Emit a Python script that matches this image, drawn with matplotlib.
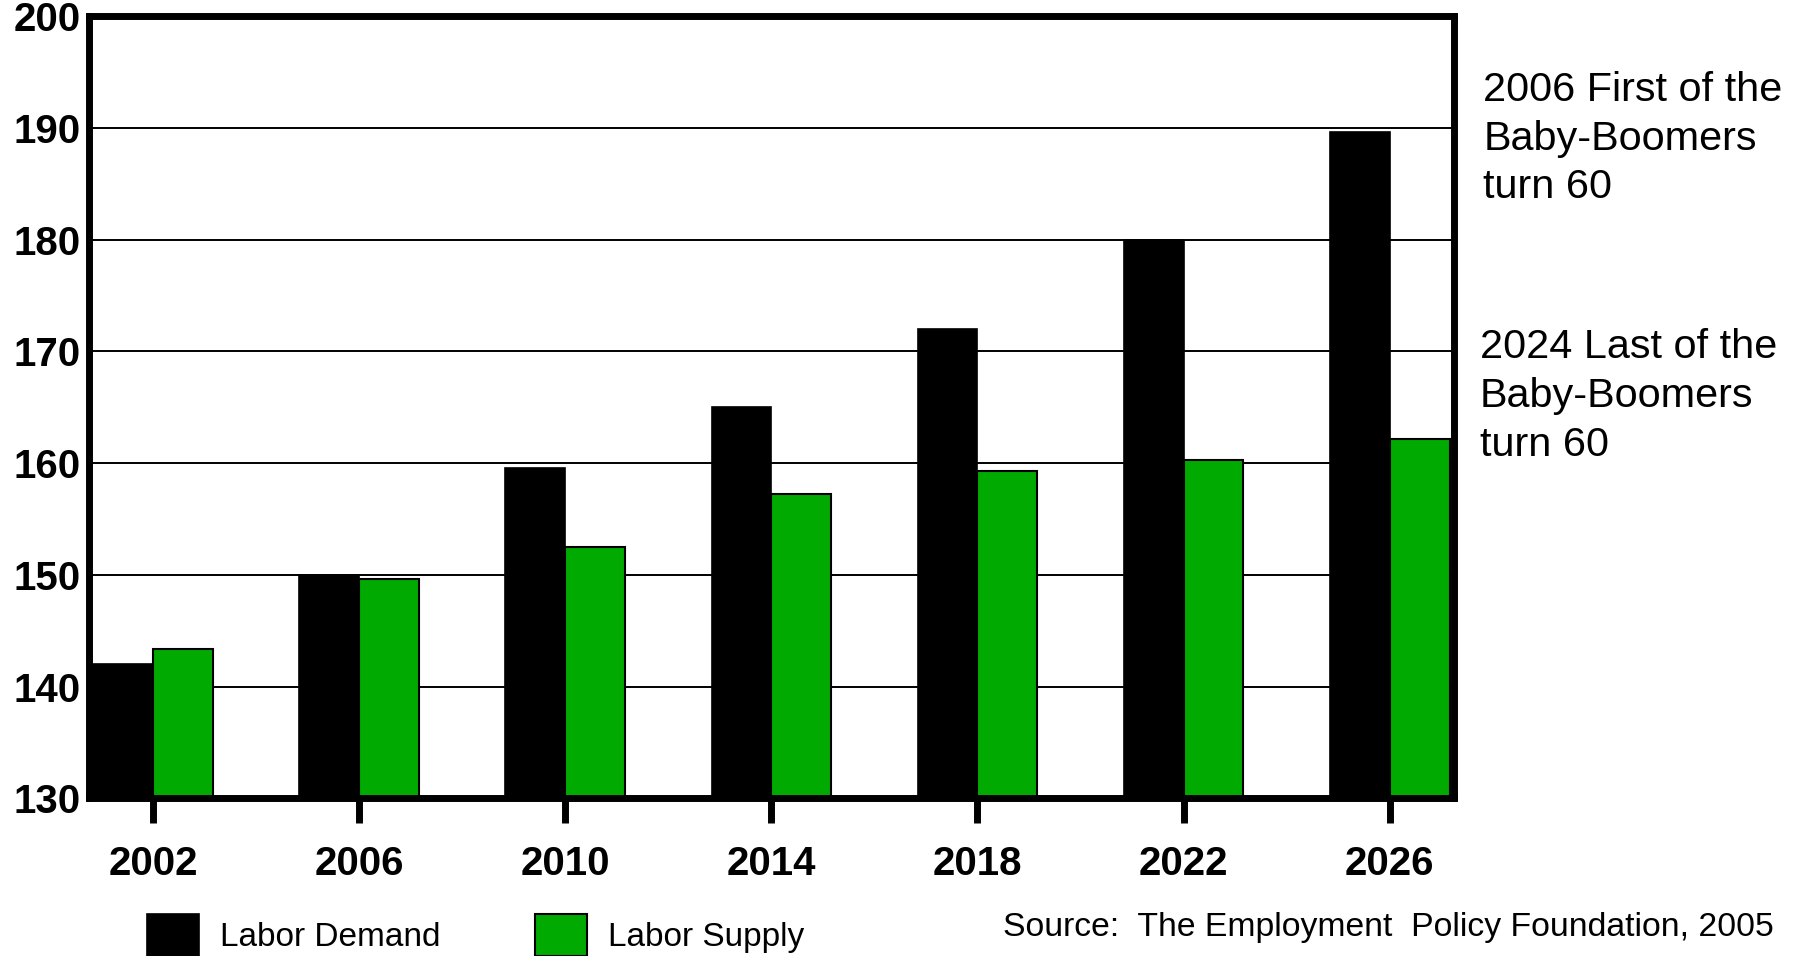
import numpy as np
import matplotlib
matplotlib.use("Agg")
import matplotlib.pyplot as plt

# data (millions of workers)
years = ["2002", "2006", "2010", "2014", "2018", "2022", "2026"]
labor_demand = [142.0, 150.0, 159.6, 165.0, 172.0, 180.0, 189.6]
labor_supply = [143.4, 149.6, 152.5, 157.2, 159.3, 160.3, 162.2]
yticks = [130, 140, 150, 160, 170, 180, 190, 200]

plt.rcParams['font.family'] = ['Liberation Sans', 'DejaVu Sans']

fig = plt.figure(figsize=(17.98, 9.56), dpi=100)
ax = fig.add_axes([0.0495, 0.165, 0.759, 0.818])

x = np.arange(len(years))
w = 0.29
b1 = ax.bar(x - w/2, np.array(labor_demand) - 130, w, bottom=130,
            color='black', edgecolor='black', linewidth=1.2, label="Labor Demand")
b2 = ax.bar(x + w/2, np.array(labor_supply) - 130, w, bottom=130,
            color='#00aa00', edgecolor='black', linewidth=1.5, label="Labor Supply")

ax.set_xlim(-0.31, 6.31)
ax.set_ylim(130, 200)
ax.set_yticks(yticks)
ax.set_xticks(x)
ax.set_xticklabels(years)

ax.set_axisbelow(True)
ax.yaxis.grid(True, color='black', linewidth=1.4)

for s in ax.spines.values():
    s.set_linewidth(5)
    s.set_color('black')

ax.tick_params(axis='x', direction='out', length=18, width=5, pad=16,
               labelsize=29)
ax.tick_params(axis='y', length=0, pad=6, labelsize=29)
for t in ax.get_xticklabels() + ax.get_yticklabels():
    t.set_fontweight('bold')

# notes on the right
fig.text(0.825, 0.926, "2006 First of the\nBaby-Boomers\nturn 60",
         fontsize=29.8, va='top', ha='left', linespacing=1.36)
fig.text(0.823, 0.657, "2024 Last of the\nBaby-Boomers\nturn 60",
         fontsize=29.8, va='top', ha='left', linespacing=1.36)

fig.text(0.558, 0.030, "Source:  The Employment  Policy Foundation, 2005",
         fontsize=24.3, va='center', ha='left')

fig.legend(handles=[b1, b2], loc='lower left', bbox_to_anchor=(0.082, 0.0),
           ncol=2, frameon=False, fontsize=24, handlelength=1.55,
           handleheight=1.55, handletextpad=0.62, columnspacing=2.85,
           borderpad=0, borderaxespad=0)

plt.savefig("out.png", dpi=100)
plt.close()
